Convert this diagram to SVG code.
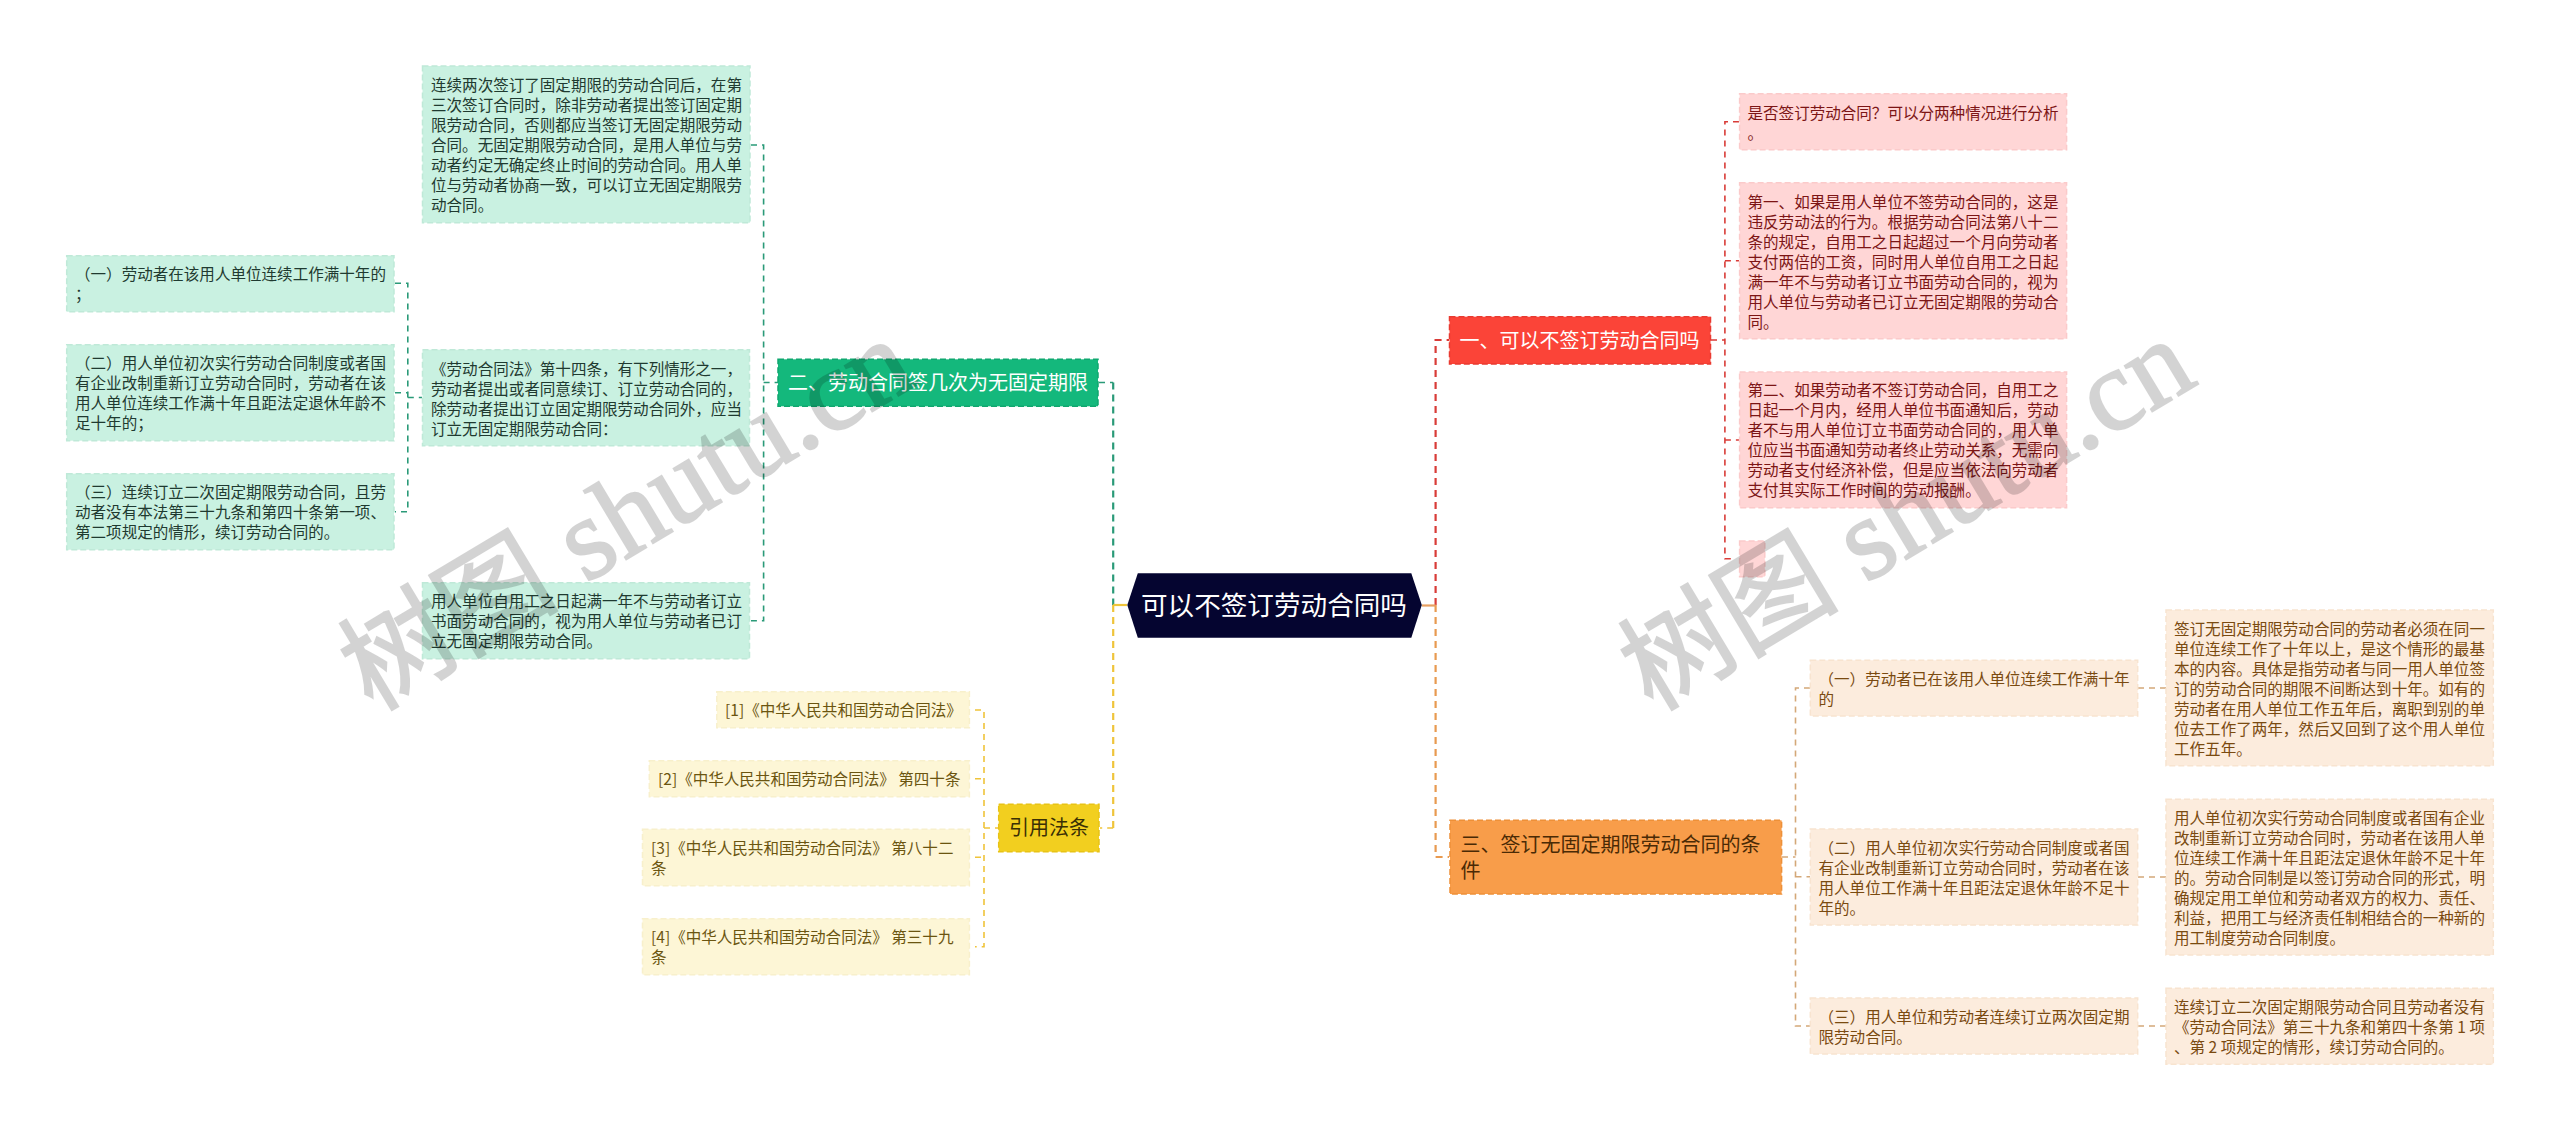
<svg xmlns="http://www.w3.org/2000/svg" width="2560" height="1131" viewBox="0 0 2560 1131">
<style>
text{font-family:"Noto Sans CJK SC","Noto Sans",sans-serif;font-size:15.55px}
.c{fill:none;stroke-width:1.6;stroke-dasharray:6 5}
.t{stroke-width:2.2;stroke-dasharray:7 5}
.g{stroke:#2a9a78}.y{stroke:#efc43a}.r{stroke:#d93c38}.o{stroke:#d4a878}.of{stroke:#e89a50}
.gb rect{fill:#c9f1e1;stroke:#bfe9d8;stroke-width:1.5;stroke-dasharray:6 3}.gb text{fill:#1f3a30}
.yb rect{fill:#fdf6d6;stroke:#f8f0cc;stroke-width:1.5;stroke-dasharray:6 3}.yb text{fill:#6b5510}
.rb rect{fill:#ffd6d6;stroke:#fbcaca;stroke-width:1.5;stroke-dasharray:6 3}.rb text{fill:#7c1515}
.ob rect{fill:#fcecdd;stroke:#f8e4d0;stroke-width:1.5;stroke-dasharray:6 3}.ob text{fill:#7a4a10}
.n text{font-size:20px}.n rect{stroke-width:1.5;stroke-dasharray:6 3}
.wm{font-family:"Liberation Serif","Noto Sans CJK SC",serif;font-size:116px;fill:#000;stroke:#000;stroke-width:2;opacity:.17}
.wm .h{font-family:"Noto Sans CJK SC",sans-serif;font-size:110px}
</style>
<g id="connectors">
<path class="c g" d="M751 145H763.6V620.7H751M763.6 382.5H778"/>
<path class="c g" d="M395 283.3H407.8V511.7H395M395 392.7H407.8M407.8 397.5H422"/>
<path class="c g" d="M1099 382.5H1113.2"/>
<path class="c t g" d="M1113.2 382.5V605"/>
<path class="c t y" d="M1113.2 605V828"/>
<path class="c y" d="M1113.2 828H1100"/>
<path d="M1127 605H1113.2" fill="none" stroke="#f0c53a" stroke-width="2.2"/>
<path class="c y" d="M975 710H984V946.7H975M975 778.7H984M975 857.3H984M984 828H998"/>
<path class="c t r" d="M1435.6 605V340H1449"/>
<path class="c t of" d="M1435.6 605V857H1449"/>
<path d="M1422 605.5H1435.6" fill="none" stroke="#e8a060" stroke-width="2.2"/>
<path class="c r" d="M1711 340H1724.9M1739 121.7H1724.9V558.7H1735M1724.9 260.7H1739M1724.9 440H1739"/>
<path class="c o" d="M1782 857H1795.5M1810 688H1795.5V1026H1810M1795.5 876.7H1810"/>
<path class="c o" d="M2138 688H2166M2138 877H2166M2138 1026H2166"/>
</g>
<g id="root"><path d="M1127.3 605L1137.8 573.3H1411.3L1421.8 605L1411.3 637.7H1137.8Z" fill="#050530"/><text x="1141" y="614.5" style="font-size:26.6px" fill="#fff">可以不签订劳动合同吗</text></g>
<g id="n1" class="n"><rect x="1449.5" y="316.7" width="261" height="47.3" fill="#fb4438" stroke="#e93a30"/><text x="1459.5" y="347.5" fill="#fff">一、可以不签订劳动合同吗</text></g>
<g id="n2" class="n"><rect x="778" y="359.3" width="320" height="47" fill="#14b87c" stroke="#0fa76f"/><text x="788" y="390" fill="#fff">二、劳动合同签几次为无固定期限</text></g>
<g id="n3" class="n"><rect x="1450" y="820.3" width="331.6" height="73.7" fill="#f89d4a" stroke="#ee9038"/><text x="1460.5" y="851.5" fill="#4a2a05">三、签订无固定期限劳动合同的条</text><text x="1460.5" y="878" fill="#4a2a05">件</text></g>
<g id="n4" class="n"><rect x="998.7" y="804.3" width="100.3" height="47.4" fill="#f2cf1f" stroke="#e8c315"/><text x="1009" y="835" fill="#3a3005">引用法条</text></g>
<g id="g1" class="gb"><rect x="422.5" y="66" width="327.5" height="156.7"/><text x="431" y="90.5">连续两次签订了固定期限的劳动合同后，在第</text><text x="431" y="110.5">三次签订合同时，除非劳动者提出签订固定期</text><text x="431" y="130.5">限劳动合同，否则都应当签订无固定期限劳动</text><text x="431" y="150.5">合同。无固定期限劳动合同，是用人单位与劳</text><text x="431" y="170.5">动者约定无确定终止时间的劳动合同。用人单</text><text x="431" y="190.5">位与劳动者协商一致，可以订立无固定期限劳</text><text x="431" y="210.5">动合同。</text></g>
<g id="g2" class="gb"><rect x="422.5" y="349.7" width="327" height="96"/><text x="431" y="374.5">《劳动合同法》第十四条，有下列情形之一，</text><text x="431" y="394.5">劳动者提出或者同意续订、订立劳动合同的，</text><text x="431" y="414.5">除劳动者提出订立固定期限劳动合同外，应当</text><text x="431" y="434.5">订立无固定期限劳动合同：</text></g>
<g id="g3" class="gb"><rect x="422.5" y="582.7" width="327" height="76"/><text x="431" y="607">用人单位自用工之日起满一年不与劳动者订立</text><text x="431" y="627">书面劳动合同的，视为用人单位与劳动者已订</text><text x="431" y="647">立无固定期限劳动合同。</text></g>
<g id="g4" class="gb"><rect x="66.7" y="255.7" width="327.3" height="56"/><text x="75" y="280">（一）劳动者在该用人单位连续工作满十年的</text><text x="75" y="300">；</text></g>
<g id="g5" class="gb"><rect x="66.7" y="344.7" width="327.3" height="96"/><text x="75" y="369">（二）用人单位初次实行劳动合同制度或者国</text><text x="75" y="389">有企业改制重新订立劳动合同时，劳动者在该</text><text x="75" y="409">用人单位连续工作满十年且距法定退休年龄不</text><text x="75" y="429">足十年的；</text></g>
<g id="g6" class="gb"><rect x="66.7" y="473.7" width="327.3" height="76"/><text x="75" y="498">（三）连续订立二次固定期限劳动合同，且劳</text><text x="75" y="518">动者没有本法第三十九条和第四十条第一项、</text><text x="75" y="538">第二项规定的情形，续订劳动合同的。</text></g>
<g id="y1" class="yb"><rect x="716.8" y="691.7" width="252.6" height="36"/><text x="725" y="715.8">[1]《中华人民共和国劳动合同法》</text></g>
<g id="y2" class="yb"><rect x="649.3" y="760.7" width="320.1" height="36"/><text x="658" y="784.8">[2]《中华人民共和国劳动合同法》 第四十条</text></g>
<g id="y3" class="yb"><rect x="642.5" y="829.3" width="326.9" height="56.4"/><text x="651" y="853.8">[3]《中华人民共和国劳动合同法》 第八十二</text><text x="651" y="873.8">条</text></g>
<g id="y4" class="yb"><rect x="642.5" y="918.7" width="326.9" height="56"/><text x="651" y="942.8">[4]《中华人民共和国劳动合同法》 第三十九</text><text x="651" y="962.8">条</text></g>
<g id="r1" class="rb"><rect x="1739.6" y="93.7" width="327" height="56"/><text x="1747.5" y="118.8">是否签订劳动合同？可以分两种情况进行分析</text><text x="1747.5" y="138.8">。</text></g>
<g id="r2" class="rb"><rect x="1739.6" y="182.7" width="327" height="156"/><text x="1747.5" y="207.8">第一、如果是用人单位不签劳动合同的，这是</text><text x="1747.5" y="227.8">违反劳动法的行为。根据劳动合同法第八十二</text><text x="1747.5" y="247.8">条的规定，自用工之日起超过一个月向劳动者</text><text x="1747.5" y="267.8">支付两倍的工资，同时用人单位自用工之日起</text><text x="1747.5" y="287.8">满一年不与劳动者订立书面劳动合同的，视为</text><text x="1747.5" y="307.8">用人单位与劳动者已订立无固定期限的劳动合</text><text x="1747.5" y="327.8">同。</text></g>
<g id="r3" class="rb"><rect x="1739.6" y="372" width="327" height="135.7"/><text x="1747.5" y="396.2">第二、如果劳动者不签订劳动合同，自用工之</text><text x="1747.5" y="416.2">日起一个月内，经用人单位书面通知后，劳动</text><text x="1747.5" y="436.2">者不与用人单位订立书面劳动合同的，用人单</text><text x="1747.5" y="456.2">位应当书面通知劳动者终止劳动关系，无需向</text><text x="1747.5" y="476.2">劳动者支付经济补偿，但是应当依法向劳动者</text><text x="1747.5" y="496.2">支付其实际工作时间的劳动报酬。</text></g>
<g id="r4" class="rb"><rect x="1739.6" y="541" width="25.2" height="35.7"/></g>
<g id="o1" class="ob"><rect x="1810.3" y="660.3" width="327.4" height="55.7"/><text x="1818.5" y="684.8">（一）劳动者已在该用人单位连续工作满十年</text><text x="1818.5" y="704.8">的</text></g>
<g id="o2" class="ob"><rect x="1810.3" y="829" width="327.4" height="96"/><text x="1818.5" y="853.8">（二）用人单位初次实行劳动合同制度或者国</text><text x="1818.5" y="873.8">有企业改制重新订立劳动合同时，劳动者在该</text><text x="1818.5" y="893.8">用人单位工作满十年且距法定退休年龄不足十</text><text x="1818.5" y="913.8">年的。</text></g>
<g id="o3" class="ob"><rect x="1810.3" y="998" width="327.4" height="56"/><text x="1818.5" y="1022.8">（三）用人单位和劳动者连续订立两次固定期</text><text x="1818.5" y="1042.8">限劳动合同。</text></g>
<g id="o4" class="ob"><rect x="2166" y="610" width="327.3" height="155.7"/><text x="2174" y="634.8">签订无固定期限劳动合同的劳动者必须在同一</text><text x="2174" y="654.8">单位连续工作了十年以上，是这个情形的最基</text><text x="2174" y="674.8">本的内容。具体是指劳动者与同一用人单位签</text><text x="2174" y="694.8">订的劳动合同的期限不间断达到十年。如有的</text><text x="2174" y="714.8">劳动者在用人单位工作五年后，离职到别的单</text><text x="2174" y="734.8">位去工作了两年，然后又回到了这个用人单位</text><text x="2174" y="754.8">工作五年。</text></g>
<g id="o5" class="ob"><rect x="2166" y="799.3" width="327.3" height="155.7"/><text x="2174" y="823.5">用人单位初次实行劳动合同制度或者国有企业</text><text x="2174" y="843.5">改制重新订立劳动合同时，劳动者在该用人单</text><text x="2174" y="863.5">位连续工作满十年且距法定退休年龄不足十年</text><text x="2174" y="883.5">的。劳动合同制是以签订劳动合同的形式，明</text><text x="2174" y="903.5">确规定用工单位和劳动者双方的权力、责任、</text><text x="2174" y="923.5">利益，把用工与经济责任制相结合的一种新的</text><text x="2174" y="943.5">用工制度劳动合同制度。</text></g>
<g id="o6" class="ob"><rect x="2166" y="988.3" width="327.3" height="76"/><text x="2174" y="1012.8">连续订立二次固定期限劳动合同且劳动者没有</text><text x="2174" y="1032.8">《劳动合同法》第三十九条和第四十条第 1 项</text><text x="2174" y="1052.8">、第 2 项规定的情形，续订劳动合同的。</text></g>
<text class="wm" transform="translate(372 712) rotate(-31)"><tspan class="h">树图</tspan> shutu.cn</text>
<text class="wm" transform="translate(1652 712) rotate(-31)"><tspan class="h">树图</tspan> shutu.cn</text>
</svg>
